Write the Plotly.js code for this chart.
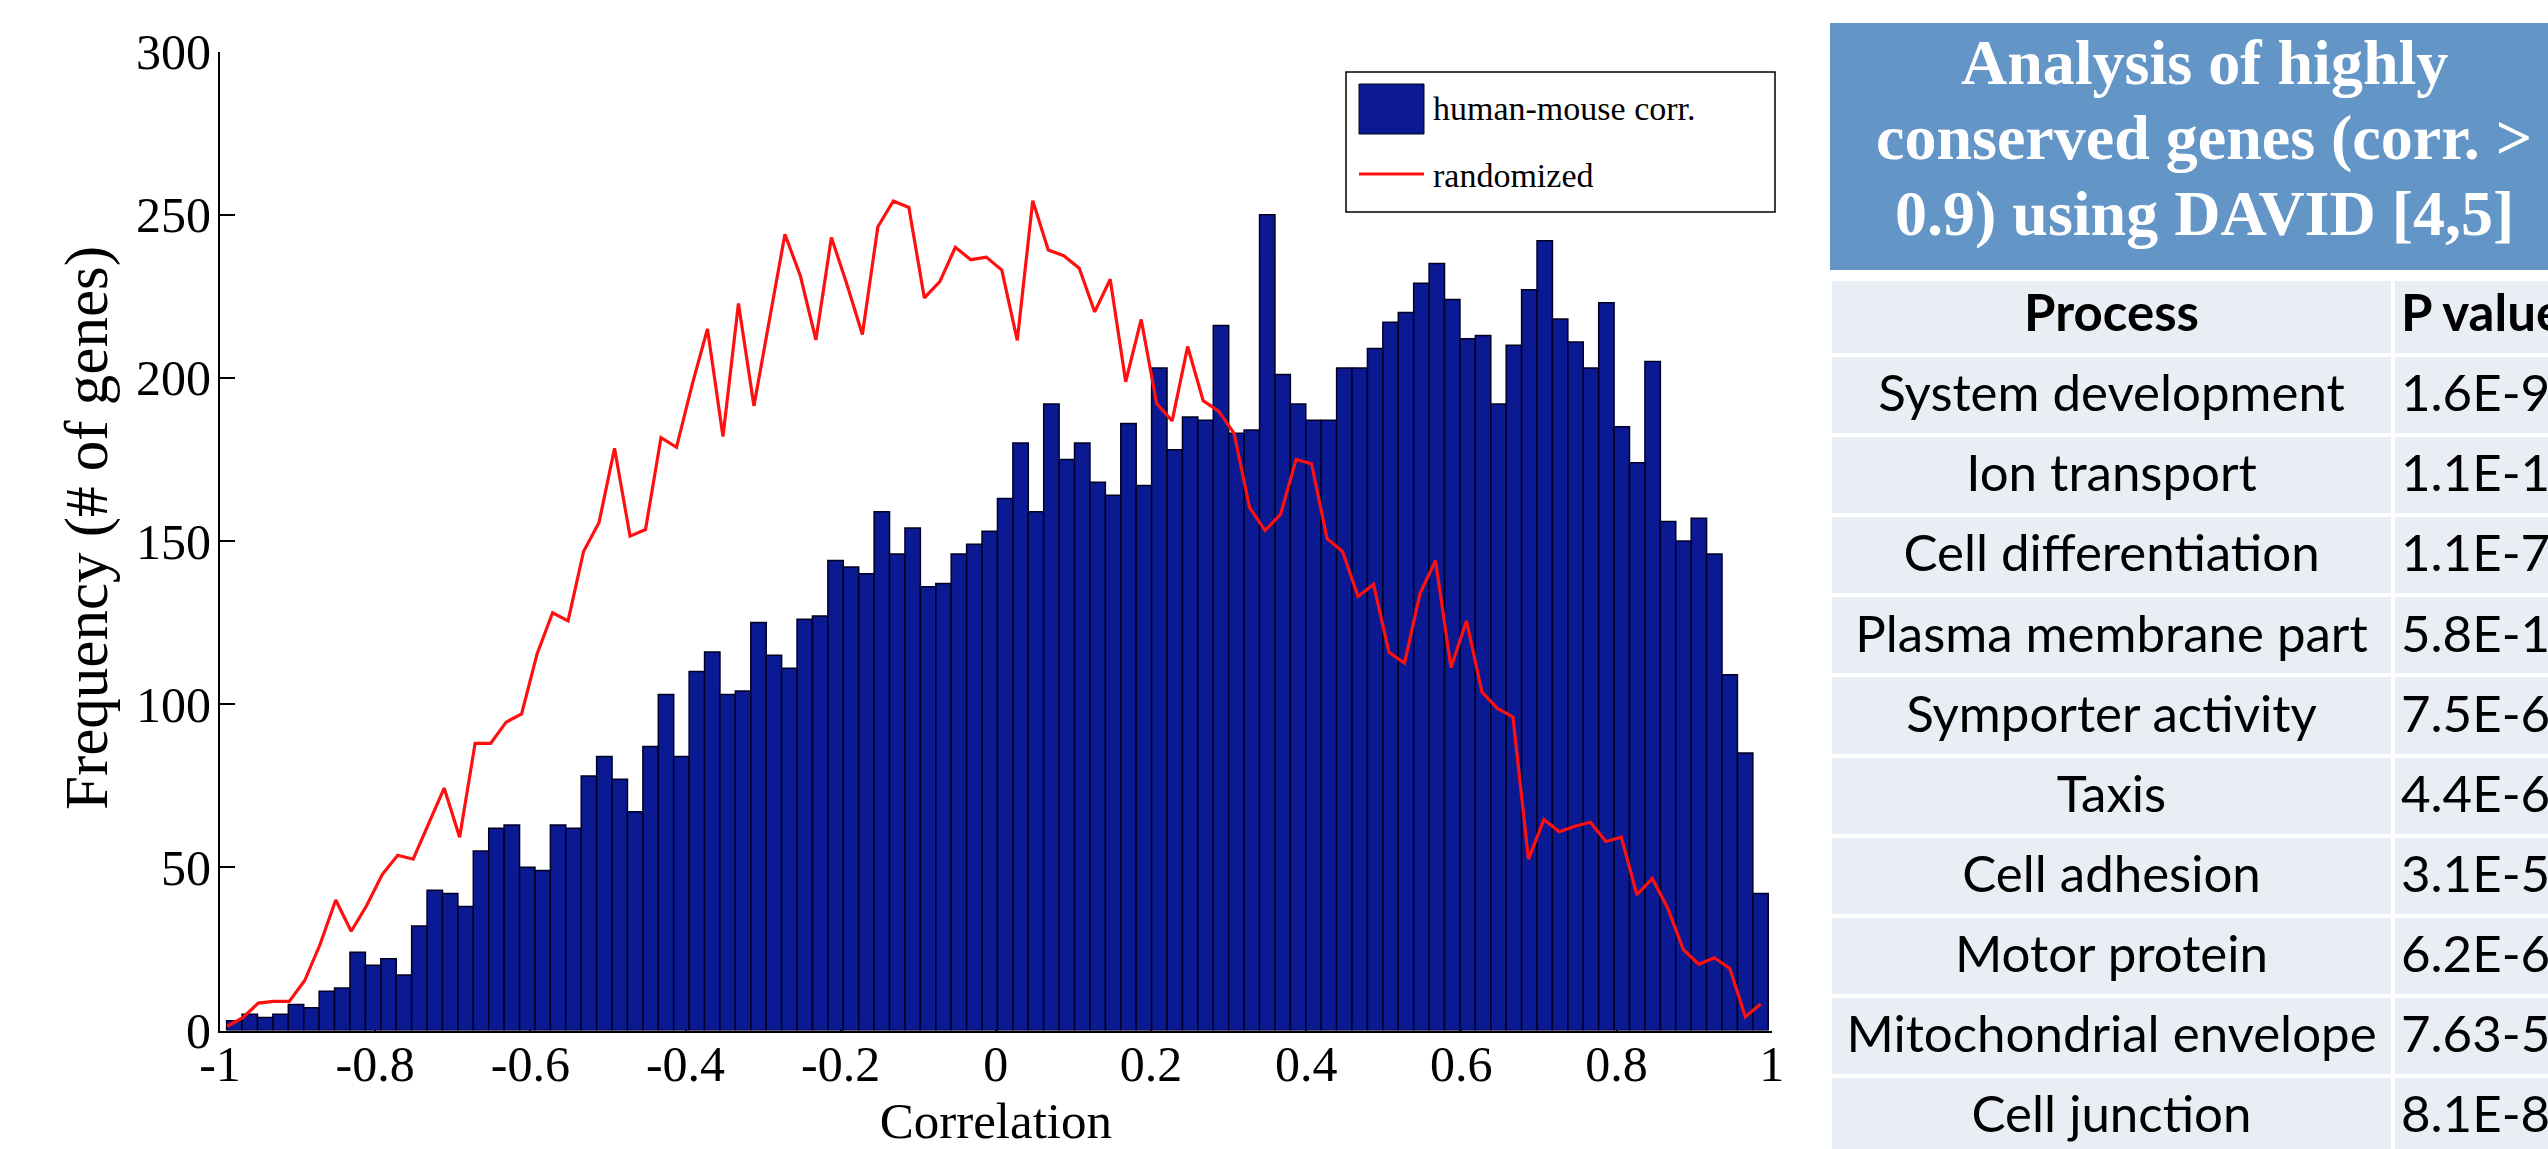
<!DOCTYPE html>
<html>
<head>
<meta charset="utf-8">
<script src="https://cdn.plot.ly/plotly-3.0.1.min.js"></script>
<style>
  html, body { margin: 0; padding: 0; background: #ffffff; overflow: hidden; }
  #frame { width: 2548px; height: 1149px; overflow: hidden; position: relative; }
  #chart { width: 2800px; height: 1149px; }
</style>
</head>
<body>
<div id="frame"><div id="chart"></div></div>
<script>
// ---------------- DATA ----------------
// Histogram of human-mouse correlation (100 bins)
const binStart = -0.9815;      // centre of first bin
const binWidth = 0.01987;      // bin width
const humanMouseCounts = [
  3, 5, 4, 5, 8, 7, 12, 13, 24, 20,
  22, 17, 32, 43, 42, 38, 55, 62, 63, 50,
  49, 63, 62, 78, 84, 77, 67, 87, 103, 84,
  110, 116, 103, 104, 125, 115, 111, 126, 127, 144,
  142, 140, 159, 146, 154, 136, 137, 146, 149, 153,
  163, 180, 159, 192, 175, 180, 168, 164, 186, 167,
  203, 178, 188, 187, 216, 183, 184, 250, 201, 192,
  187, 187, 203, 203, 209, 217, 220, 229, 235, 224,
  212, 213, 192, 210, 227, 242, 218, 211, 203, 223,
  185, 174, 205, 156, 150, 157, 146, 109, 85, 42
];
// Randomized correlation distribution (100 bins)
const randStart = -0.9906;
const randStep = 0.019965;
const randomizedCounts = [
  1.3, 3.9, 8.4, 8.9, 8.9, 15.3, 26.5, 40, 30.4, 38.3,
  47.8, 53.7, 52.5, 63.4, 74.3, 59.2, 88, 88, 94.5, 97,
  115.4, 128, 125.5, 146.8, 155.7, 178.4, 151.5, 153.5, 181.7, 178.7,
  197.7, 215, 182, 222.8, 191.4, 217.8, 244, 231.2, 211.6, 243,
  228.7, 213.3, 246.3, 254.2, 252.2, 224.5, 229.5, 240, 236.2, 237,
  233, 211.5, 254.3, 239.2, 237.4, 233.6, 220.2, 230.2, 198.8, 217.9,
  192.1, 186.8, 209.6, 193, 189.8, 183, 160.2, 153.2, 158.2, 175,
  173.7, 150.7, 146.8, 133, 136.7, 115.9, 112.6, 133.9, 144, 111.2,
  125.5, 103.7, 98.7, 96.1, 52.5, 64.6, 60.9, 62.6, 63.8, 57.9,
  59.2, 41.6, 46.6, 37.4, 24.8, 20.3, 22.3, 19, 4.2, 8.1
];
const xTickVals = [-1, -0.8, -0.6, -0.4, -0.2, 0, 0.2, 0.4, 0.6, 0.8, 1];
const xTickText = ['-1', '-0.8', '-0.6', '-0.4', '-0.2', '0', '0.2', '0.4', '0.6', '0.8', '1'];
const yTickVals = [0, 50, 100, 150, 200, 250, 300];
const yTickText = ['0', '50', '100', '150', '200', '250', '300'];
const seriesNames = ['human-mouse corr.', 'randomized'];
const xTitle = 'Correlation';
const yTitle = 'Frequency (# of genes)';

// DAVID table
const tableTitleLines = ['Analysis of highly', 'conserved genes (corr. >', '0.9) using DAVID [4,5]'];
const tableHeaders = ['Process', 'P value'];
const processes = [
  'System development', 'Ion transport', 'Cell differentiation', 'Plasma membrane part',
  'Symporter activity', 'Taxis', 'Cell adhesion', 'Motor protein',
  'Mitochondrial envelope', 'Cell junction'
];
const pValues = ['1.6E-9', '1.1E-12', '1.1E-7', '5.8E-13', '7.5E-6', '4.4E-6', '3.1E-5', '6.2E-6', '7.63-5', '8.1E-8'];

// ---------------- LAYOUT HELPERS ----------------
const W = 2800, H = 1149;           // drawing is wider than the visible 2548 px window (table runs off the edge)
const px = x => x / W;              // pixel x -> paper
const py = y => 1 - y / H;          // pixel y (from top) -> paper

const SERIF = 'Liberation Serif, Times New Roman, serif';
const SANS = 'Lato, Carlito, Calibri, sans-serif';
const BAR_BLUE = '#0b1a93';
const RED = '#ff1010';
const HEADER_BLUE = '#6395c7';
const CELL_BG = '#e9edf4';
const NONE = 'rgba(0,0,0,0)';
const COL1 = 563;
const COLW = [COL1, W - 1830 - COL1];
const ROW_H = 80.1;
const TABLE_TOP = 279, HEAD_H = 76;
const TEXT_TOP = 272.5, TEXT_HEAD_H = 92.5;   // text layer offsets (vertical centring in cells)

const traces = [
  {
    type: 'bar',
    name: seriesNames[0],
    y: humanMouseCounts,
    x0: binStart,
    dx: binWidth,
    width: binWidth,
    marker: { color: BAR_BLUE, line: { color: '#000022', width: 1.5 } },
    showlegend: false,
    xaxis: 'x', yaxis: 'y'
  },
  {
    type: 'scatter',
    mode: 'lines',
    name: seriesNames[1],
    y: randomizedCounts,
    x0: randStart,
    dx: randStep,
    line: { color: RED, width: 3.2 },
    showlegend: false,
    xaxis: 'x', yaxis: 'y'
  },
  // table cell backgrounds
  {
    type: 'table',
    domain: { x: [px(1830), 1], y: [0, py(TABLE_TOP)] },
    columnwidth: COLW,
    header: {
      values: tableHeaders.map(() => ['']),
      height: HEAD_H,
      fill: { color: CELL_BG },
      line: { color: '#ffffff', width: 4 },
      font: { family: SANS, size: 20, color: '#000000' }
    },
    cells: {
      values: [processes.map(() => ''), pValues.map(() => '')],
      height: ROW_H,
      fill: { color: CELL_BG },
      line: { color: '#ffffff', width: 4 },
      font: { family: SANS, size: 20, color: '#000000' }
    }
  },
  // table text
  {
    type: 'table',
    domain: { x: [px(1830), 1], y: [0, py(TEXT_TOP)] },
    columnwidth: COLW,
    header: {
      values: tableHeaders.map(h => ['<b>' + h + '</b>']),
      align: ['center', 'left'],
      height: TEXT_HEAD_H,
      fill: { color: NONE },
      line: { color: NONE, width: 0 },
      font: { family: SANS, size: 51, color: '#000000' }
    },
    cells: {
      values: [processes, pValues],
      align: ['center', 'left'],
      height: ROW_H,
      fill: { color: NONE },
      line: { color: NONE, width: 0 },
      font: { family: SANS, size: 51, color: '#000000' }
    }
  }
];

const shapes = [
  // legend box
  { type: 'rect', xref: 'paper', yref: 'paper', x0: px(1346), x1: px(1775), y0: py(212), y1: py(72),
    line: { color: '#000000', width: 1.5 }, fillcolor: '#ffffff', layer: 'above' },
  // legend: bar patch
  { type: 'rect', xref: 'paper', yref: 'paper', x0: px(1359), x1: px(1424), y0: py(134), y1: py(84),
    line: { color: '#000022', width: 1 }, fillcolor: BAR_BLUE, layer: 'above' },
  // legend: red line
  { type: 'line', xref: 'paper', yref: 'paper', x0: px(1359), x1: px(1424), y0: py(174), y1: py(174),
    line: { color: RED, width: 3.2 }, layer: 'above' },
  // blue title box of the table
  { type: 'rect', xref: 'paper', yref: 'paper', x0: px(1830), x1: 1, y0: py(270), y1: py(23),
    line: { width: 0 }, fillcolor: HEADER_BLUE, layer: 'below' }
];

const titleBaselines = [84, 159, 235];
const annotations = [
  { xref: 'paper', yref: 'paper', x: px(1431), y: py(108.5), xanchor: 'left', yanchor: 'middle',
    text: seriesNames[0], showarrow: false, font: { family: SERIF, size: 34, color: '#000000' } },
  { xref: 'paper', yref: 'paper', x: px(1431), y: py(175), xanchor: 'left', yanchor: 'middle',
    text: seriesNames[1], showarrow: false, font: { family: SERIF, size: 34, color: '#000000' } },
  // y-axis title
  { xref: 'paper', yref: 'paper', x: px(87), y: py(528), xanchor: 'center', yanchor: 'middle',
    textangle: -90, text: yTitle, showarrow: false, font: { family: SERIF, size: 61, color: '#000000' } }
].concat(tableTitleLines.map((t, i) => ({
  xref: 'paper', yref: 'paper', x: px(2204), y: py(titleBaselines[i] - 21.6),
  xanchor: 'center', yanchor: 'middle', showarrow: false,
  text: '<b>' + t + '</b>',
  font: { family: SERIF, size: 64, color: '#ffffff' }
})));

const layout = {
  width: W, height: H,
  margin: { l: 0, r: 0, t: 0, b: 0, pad: 0 },
  paper_bgcolor: '#ffffff',
  plot_bgcolor: 'rgba(0,0,0,0)',
  showlegend: false,
  xaxis: {
    domain: [px(220), px(1771.7)],
    range: [-1, 1],
    tickvals: xTickVals, ticktext: xTickText,
    ticks: 'inside', ticklen: 15, tickwidth: 2, tickcolor: '#000000',
    showline: true, linecolor: '#000000', linewidth: 2,
    showgrid: false, zeroline: false,
    layer: 'below traces',
    ticklabelstandoff: -12,
    tickfont: { family: SERIF, size: 50, color: '#000000' },
    title: { text: xTitle, font: { family: SERIF, size: 51, color: '#000000' }, standoff: 17 }
  },
  yaxis: {
    domain: [py(1030.5), py(51.5)],
    range: [0, 300],
    tickvals: yTickVals, ticktext: yTickText,
    ticks: 'inside', ticklen: 15, tickwidth: 2, tickcolor: '#000000',
    showline: true, linecolor: '#000000', linewidth: 2,
    showgrid: false, zeroline: false,
    layer: 'below traces',
    ticklabelstandoff: -3,
    tickfont: { family: SERIF, size: 50, color: '#000000' }
  },
  shapes: shapes,
  annotations: annotations
};

Plotly.newPlot('chart', traces, layout, { staticPlot: true, displayModeBar: false });
</script>
</body>
</html>
